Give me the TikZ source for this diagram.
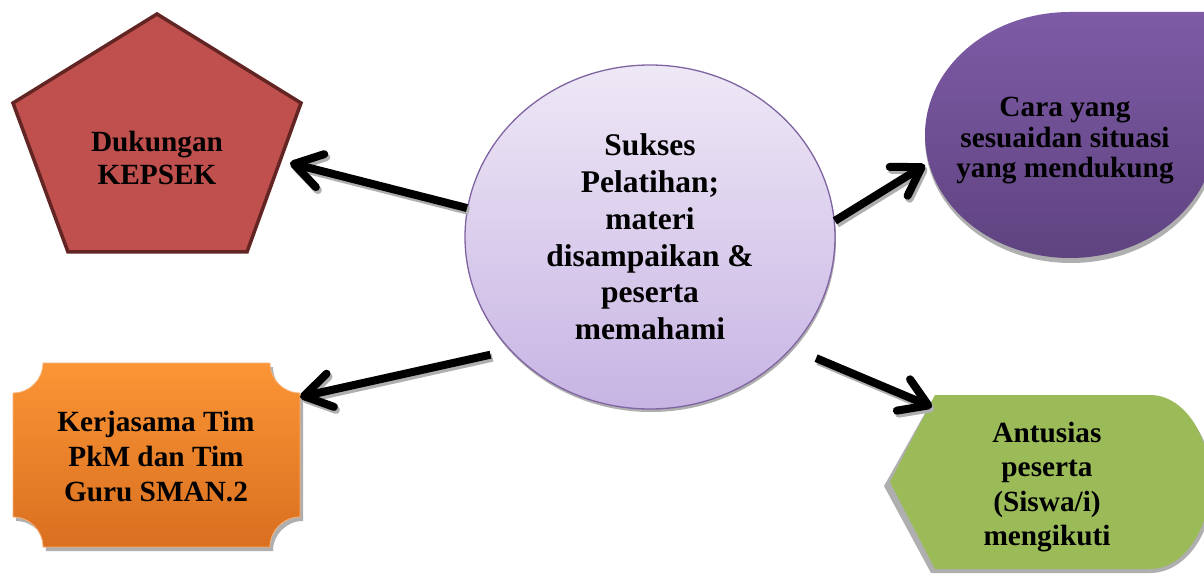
\documentclass[tikz,border=0pt]{standalone}
\usepackage{fontspec}
\setmainfont{Liberation Serif}
\usetikzlibrary{arrows.meta,shapes.geometric}
\definecolor{pentfill}{HTML}{C0504D}
\definecolor{pentdraw}{HTML}{632523}
\definecolor{circtop}{HTML}{EEE8F6}
\definecolor{circbot}{HTML}{C7B4E3}
\definecolor{circdraw}{HTML}{8064A2}
\definecolor{purtop}{HTML}{7E5BA6}
\definecolor{purbot}{HTML}{5F4380}
\definecolor{orgtop}{HTML}{FB9535}
\definecolor{orgbot}{HTML}{D96F20}
\definecolor{orgdraw}{HTML}{F8B27A}
\definecolor{grnfill}{HTML}{9BBB59}
\definecolor{shadowgray}{HTML}{AFAFAF}
\begin{document}
\begin{tikzpicture}[x=1pt,y=-1pt,
  lbl/.style={font=\bfseries\fontsize{29.3}{34}\selectfont, align=center, inner sep=0pt, text=black},
  pentshape/.style={fill=pentfill, draw=pentdraw, line width=3.5pt, line join=miter},
  shadowshape/.style={fill=shadowgray, draw=none},
  arr/.style={draw=black, line width=8pt, -{Straight Barb[length=27pt,width=34pt,round]}},
  arrsh/.style={draw=shadowgray, line width=8pt, -{Straight Barb[length=27pt,width=34pt,round]}}
]
\clip (0,0) rectangle (1204,577);
\fill[white] (0,0) rectangle (1204,577);

% pentagon
\draw[pentshape] (157,14) -- (301,103) -- (247,252) -- (68,252) -- (13,103) -- cycle;
\node[lbl, font=\bfseries\fontsize{29.3}{33}\selectfont] (dk) at (157,158) {Dukungan\\KEPSEK};

% purple teardrop
\fill[shadowgray] (925,138) arc[start angle=180, end angle=270, x radius=145, y radius=123]
  -- (1217,15) -- (1217,138) arc[start angle=0, end angle=180, x radius=146, y radius=125] -- cycle;
\shade[top color=purtop, bottom color=purbot] (925,135) arc[start angle=180, end angle=270, x radius=145, y radius=123]
  -- (1215,12) -- (1215,135) arc[start angle=0, end angle=180, x radius=145, y radius=123] -- cycle;
\node[lbl, font=\bfseries\fontsize{29.3}{30.5}\selectfont] (cr) at (1065,141) {Cara yang\\sesuaidan situasi\\yang mendukung};

% orange plaque
\fill[shadowgray] (46,367) -- (273,367) arc[start angle=180, end angle=90, radius=30] -- (303,521)
  arc[start angle=270, end angle=180, radius=30] -- (46,551) arc[start angle=0, end angle=-90, radius=30]
  -- (16,397) arc[start angle=90, end angle=0, radius=30] -- cycle;
\shade[top color=orgtop, bottom color=orgbot, draw=orgdraw, line width=0.8pt]
  (43,363) -- (270,363) arc[start angle=180, end angle=90, radius=30] -- (300,517)
  arc[start angle=270, end angle=180, radius=30] -- (43,547) arc[start angle=0, end angle=-90, radius=30]
  -- (13,393) arc[start angle=90, end angle=0, radius=30] -- cycle;
\node[lbl, font=\bfseries\fontsize{29.3}{35}\selectfont] (kt) at (156,457) {Kerjasama Tim\\PkM dan Tim\\Guru SMAN.2};

% green display
\fill[shadowgray] (884,486) -- (933,399) -- (1150,399) arc[start angle=-90, end angle=90, x radius=63, y radius=87]
  -- (931,573) -- cycle;
\fill[grnfill] (890,482) -- (935,395) -- (1150,395) arc[start angle=-90, end angle=90, x radius=60, y radius=87]
  -- (935,569) -- cycle;
\node[lbl, font=\bfseries\fontsize{29.3}{34.3}\selectfont] (an) at (1047,487) {Antusias\\peserta\\(Siswa/i)\\mengikuti};

% center ellipse
\fill[shadowgray] (651,240) ellipse[x radius=185, y radius=172];
\node[ellipse, minimum width=370pt, minimum height=344pt, inner sep=0pt,
      top color=circtop, bottom color=circbot, draw=circdraw, line width=1.3pt,
      align=center, font=\bfseries\fontsize{31.5}{36.8}\selectfont] (cp) at (650,237)
      {Sukses\\Pelatihan;\\materi\\disampaikan \&\\peserta\\memahami};

% arrow ends
\coordinate (dkin) at (290,163);
\coordinate (crin) at (925,165);
\coordinate (ktin) at (300,397);
\coordinate (anin) at (932,407);

\begin{scope}[transform canvas={shift={(2pt,-3pt)}}]
\draw[arrsh] (cp.171) -- (dkin);
\draw[arrsh] (cp.5) -- (crin);
\draw[arrsh, shorten <=20pt] (cp.219) -- (ktin);
\draw[arrsh, shorten <=26pt] (cp.322) -- (anin);
\end{scope}
\draw[arr] (cp.171) -- (dkin);
\draw[arr] (cp.5) -- (crin);
\draw[arr, shorten <=20pt] (cp.219) -- (ktin);
\draw[arr, shorten <=26pt] (cp.322) -- (anin);
\end{tikzpicture}
\end{document}
